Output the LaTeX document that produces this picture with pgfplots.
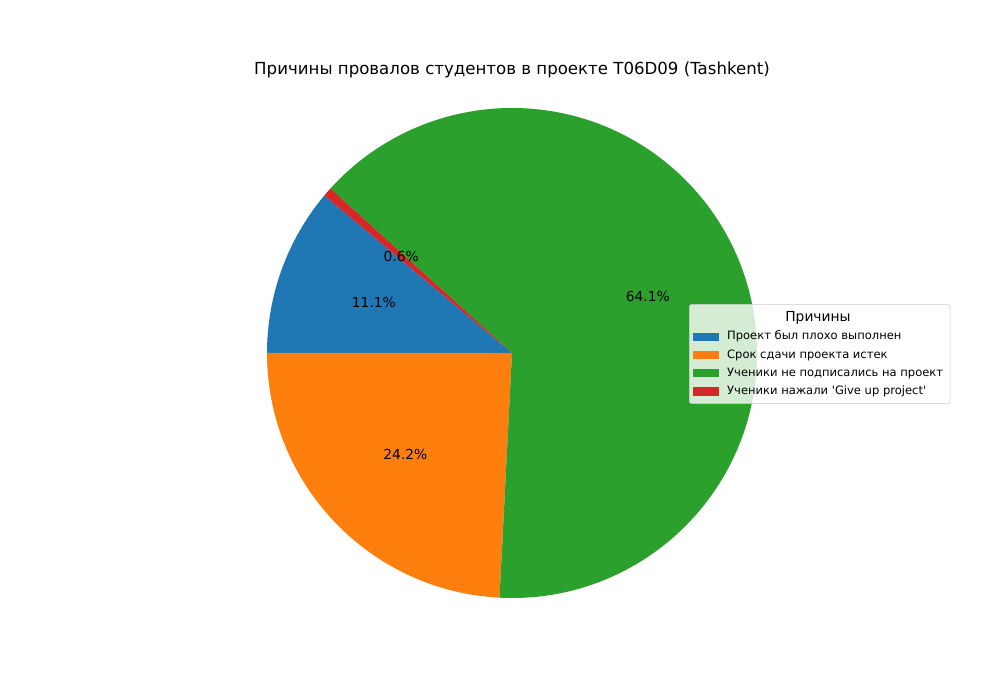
\documentclass[border=0pt]{standalone}
\usepackage{pgfplots}
\pgfplotsset{compat=1.18}
\usepackage{pgfplotstable}
\usepackage{fontspec}
\setmainfont{DejaVu Sans}[Ligatures=TeXOff]
\definecolor{tabblue}{HTML}{1F77B4}
\definecolor{taborange}{HTML}{FF7F0E}
\definecolor{tabgreen}{HTML}{2CA02C}
\definecolor{tabred}{HTML}{D62728}
\pgfplotstableread{
idx value
0 11.1
1 24.2
2 64.1
3 0.6
}\piedata
\begin{document}
\begin{tikzpicture}
\path[use as bounding box] (0,0) rectangle (10in,7in);
\pgfplotstablegetelem{0}{value}\of\piedata \let\va\pgfplotsretval
\pgfplotstablegetelem{1}{value}\of\piedata \let\vb\pgfplotsretval
\pgfplotstablegetelem{2}{value}\of\piedata \let\vc\pgfplotsretval
\pgfplotstablegetelem{3}{value}\of\piedata \let\vd\pgfplotsretval
\pgfmathsetmacro{\tot}{\va+\vb+\vc+\vd}
\pgfmathsetmacro{\sA}{140}
\pgfmathsetmacro{\eA}{\sA+(\va/\tot)*360}
\pgfmathsetmacro{\eB}{\eA+(\vb/\tot)*360}
\pgfmathsetmacro{\eC}{\eB+(\vc/\tot)*360}
\pgfmathsetmacro{\eD}{\eC+(\vd/\tot)*360}
\pgfmathsetmacro{\mA}{(\sA+\eA)/2}
\pgfmathsetmacro{\mB}{(\eA+\eB)/2}
\pgfmathsetmacro{\mC}{(\eB+\eC)/2}
\pgfmathsetmacro{\mD}{(\eC+\eD)/2}
\begin{axis}[
  at={(0,0)}, anchor=south west,
  scale only axis, width=10in, height=7in,
  xmin=0, xmax=1000, ymin=0, ymax=700,
  hide axis, clip=false,
  legend style={at={(rel axis cs:0.689,0.5657)}, anchor=north west,
    draw=black!20, fill=white, fill opacity=0.8, text opacity=1,
    rounded corners=2pt, inner xsep=3pt, inner ysep=3pt,
    font=\fontsize{8.33}{10}\selectfont, row sep=1.5pt},
  legend cell align=left,
  legend image code/.code={\fill[#1, sharp corners, fill opacity=1] (0pt,-2.6pt) rectangle (18pt,2.6pt); \path (22pt,0pt);},
]
\addlegendimage{empty legend}
\addlegendentry{\hspace{42pt}\fontsize{10}{12}\selectfont Причины}
\addlegendimage{tabblue}
\addlegendentry{Проект был плохо выполнен}
\addlegendimage{taborange}
\addlegendentry{Срок сдачи проекта истек}
\addlegendimage{tabgreen}
\addlegendentry{Ученики не подписались на проект}
\addlegendimage{tabred}
\addlegendentry{Ученики нажали 'Give up project'}
\fill[tabblue] (axis cs:512,347) -- ++(\sA:2.45in) arc[start angle=\sA, end angle=\eA, radius=2.45in] -- cycle;
\fill[taborange] (axis cs:512,347) -- ++(\eA:2.45in) arc[start angle=\eA, end angle=\eB, radius=2.45in] -- cycle;
\fill[tabgreen] (axis cs:512,347) -- ++(\eB:2.45in) arc[start angle=\eB, end angle=\eC, radius=2.45in] -- cycle;
\fill[tabred] (axis cs:512,347) -- ++(\eC:2.45in) arc[start angle=\eC, end angle=\eD, radius=2.45in] -- cycle;
\path (axis cs:512,347) ++(\mA:1.47in) node[font=\fontsize{10}{12}\selectfont] {11.1\%};
\path (axis cs:512,347) ++(\mB:1.47in) node[font=\fontsize{10}{12}\selectfont] {24.2\%};
\path (axis cs:512,347) ++(\mC:1.47in) node[font=\fontsize{10}{12}\selectfont] {64.1\%};
\path (axis cs:512,347) ++(\mD:1.47in) node[font=\fontsize{10}{12}\selectfont] {0.6\%};
\node[font=\fontsize{12}{14}\selectfont] at (axis cs:512,630) {Причины провалов студентов в проекте T06D09 (Tashkent)};
\end{axis}
\end{tikzpicture}
\end{document}
